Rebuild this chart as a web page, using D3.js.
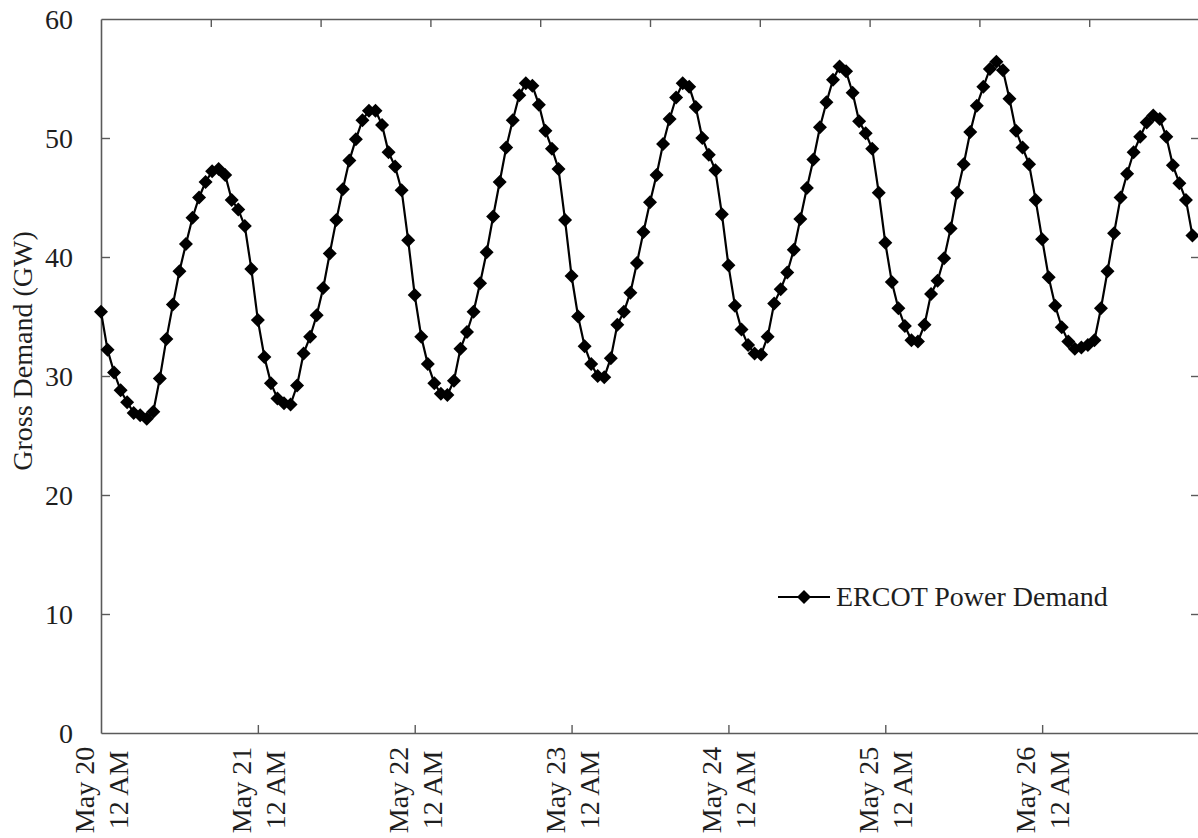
<!DOCTYPE html>
<html>
<head>
<meta charset="utf-8">
<script src="https://cdn.jsdelivr.net/npm/d3@7/dist/d3.min.js"></script>
<style>
  html, body { margin: 0; padding: 0; background: #fff; }
  svg { display: block; }
  text { font-family: "Liberation Serif", "Times New Roman", serif; fill: #1e1e1e; }
</style>
</head>
<body>
<svg id="chart" width="1198" height="838"></svg>
<script>
// Hourly ERCOT gross demand (GW), May 20 12 AM through May 26 11 PM
const day1 = [35.4, 32.2, 30.3, 28.8, 27.8, 26.9, 26.7, 26.4, 27.0, 29.8, 33.1, 36.0, 38.8, 41.1, 43.3, 45.0, 46.3, 47.2, 47.4, 46.9, 44.8, 44.0, 42.6, 39.0];
const day2 = [34.7, 31.6, 29.4, 28.1, 27.7, 27.6, 29.2, 31.9, 33.3, 35.1, 37.4, 40.3, 43.1, 45.7, 48.1, 49.9, 51.5, 52.3, 52.3, 51.1, 48.8, 47.6, 45.6, 41.4];
const day3 = [36.8, 33.3, 31.0, 29.4, 28.5, 28.4, 29.6, 32.3, 33.7, 35.4, 37.8, 40.4, 43.4, 46.3, 49.2, 51.5, 53.6, 54.6, 54.4, 52.8, 50.6, 49.1, 47.4, 43.1];
const day4 = [38.4, 35.0, 32.5, 31.0, 30.0, 29.9, 31.5, 34.3, 35.4, 37.0, 39.5, 42.1, 44.6, 46.9, 49.5, 51.6, 53.4, 54.6, 54.3, 52.6, 50.0, 48.6, 47.3, 43.6];
const day5 = [39.3, 35.9, 33.9, 32.6, 31.9, 31.8, 33.3, 36.1, 37.3, 38.7, 40.6, 43.2, 45.8, 48.2, 50.9, 53.0, 54.9, 56.0, 55.6, 53.8, 51.4, 50.4, 49.1, 45.4];
const day6 = [41.2, 37.9, 35.7, 34.2, 33.0, 32.9, 34.3, 36.9, 38.0, 39.9, 42.4, 45.4, 47.8, 50.5, 52.7, 54.3, 55.8, 56.4, 55.7, 53.3, 50.6, 49.2, 47.8, 44.8];
const day7 = [41.5, 38.3, 35.9, 34.1, 32.9, 32.3, 32.4, 32.6, 33.0, 35.7, 38.8, 42.0, 45.0, 47.0, 48.8, 50.1, 51.3, 51.9, 51.6, 50.1, 47.7, 46.2, 44.8, 41.8];

const dayLabels = ["May 20", "May 21", "May 22", "May 23", "May 24", "May 25", "May 26"];
const yTicks = [0, 10, 20, 30, 40, 50, 60];
const seriesName = "ERCOT Power Demand";
const yTitle = "Gross Demand (GW)";

const demand = [].concat(day1, day2, day3, day4, day5, day6, day7);
const points = demand.map((v, h) => ({ hour: h, value: v }));

const svg = d3.select("#chart");
const plot = { left: 101, top: 19, right: 1199, bottom: 733 };
const axisColor = "#5a5a5a";
const fontSize = "28px";

const x = d3.scaleLinear().domain([0, 168]).range([plot.left, plot.right]);
const y = d3.scaleLinear().domain([0, 60]).range([plot.bottom, plot.top]);
// Secondary (mirrored) top axis split into ten equal divisions
const xTop = d3.scaleLinear().domain([0, 10]).range([plot.left, plot.right]);

function styleAxis(g) {
  g.select(".domain").attr("stroke", axisColor).attr("stroke-width", 1.6);
  g.selectAll(".tick line").attr("stroke", axisColor).attr("stroke-width", 1.4);
}

// Left axis with inward ticks
const gLeft = svg.append("g")
  .attr("transform", `translate(${plot.left},0)`)
  .call(d3.axisLeft(y).tickValues(yTicks).tickSizeInner(-9).tickSizeOuter(0).tickPadding(28));
styleAxis(gLeft);
gLeft.selectAll(".tick text")
  .attr("x", -28).attr("dy", "0.34em")
  .style("font-size", fontSize).style("font-family", "Liberation Serif, serif").attr("fill", "#1e1e1e");
gLeft.selectAll(".tick").filter(d => d === 0 || d === 60).select("line").remove();

// Right axis, ticks only
const gRight = svg.append("g")
  .attr("transform", `translate(${plot.right},0)`)
  .call(d3.axisRight(y).tickValues(yTicks.filter(d => d > 0 && d < 60)).tickSizeInner(-8).tickSizeOuter(0).tickFormat(""));
styleAxis(gRight);

// Top axis, ticks only
const gTop = svg.append("g")
  .attr("transform", `translate(0,${plot.top})`)
  .call(d3.axisTop(xTop).tickValues(d3.range(1, 10)).tickSizeInner(-8).tickSizeOuter(0).tickFormat(""));
styleAxis(gTop);

// Bottom axis at each midnight
const gBottom = svg.append("g")
  .attr("transform", `translate(0,${plot.bottom})`)
  .call(d3.axisBottom(x).tickValues(d3.range(0, 7).map(d => d * 24)).tickSizeInner(-8).tickSizeOuter(0).tickFormat(""));
styleAxis(gBottom);
gBottom.selectAll(".tick").filter(d => d === 0).select("line").remove();

// Rotated two-line day labels
const labels = svg.append("g").selectAll("text")
  .data(dayLabels)
  .join("text")
  .attr("transform", (d, i) => `translate(${x(i * 24)},790) rotate(-90)`)
  .attr("text-anchor", "middle")
  .style("font-size", fontSize);
labels.append("tspan").attr("x", 0).attr("y", -7).text(d => d);
labels.append("tspan").attr("x", 0).attr("y", 27).text("12 AM");

// Y axis title
svg.append("text")
  .attr("transform", `translate(32,351) rotate(-90)`)
  .attr("text-anchor", "middle")
  .style("font-size", fontSize)
  .text(yTitle);

// Demand line
const line = d3.line().x(d => x(d.hour)).y(d => y(d.value));
svg.append("path")
  .datum(points)
  .attr("fill", "none")
  .attr("stroke", "#000")
  .attr("stroke-width", 2.2)
  .attr("d", line);

// Diamond markers
const diamond = "M0,-7L7,0L0,7L-7,0Z";
svg.append("g").selectAll("path")
  .data(points)
  .join("path")
  .attr("d", diamond)
  .attr("fill", "#000")
  .attr("transform", d => `translate(${x(d.hour)},${y(d.value)})`);

// Legend
const legend = svg.append("g").attr("transform", "translate(778,597)");
legend.append("line").attr("x1", 0).attr("x2", 52).attr("y1", 0).attr("y2", 0)
  .attr("stroke", "#000").attr("stroke-width", 2.2);
legend.append("path").attr("d", diamond).attr("fill", "#000").attr("transform", "translate(26,0)");
legend.append("text").attr("x", 58).attr("y", 9).style("font-size", fontSize).text(seriesName);
</script>
</body>
</html>
